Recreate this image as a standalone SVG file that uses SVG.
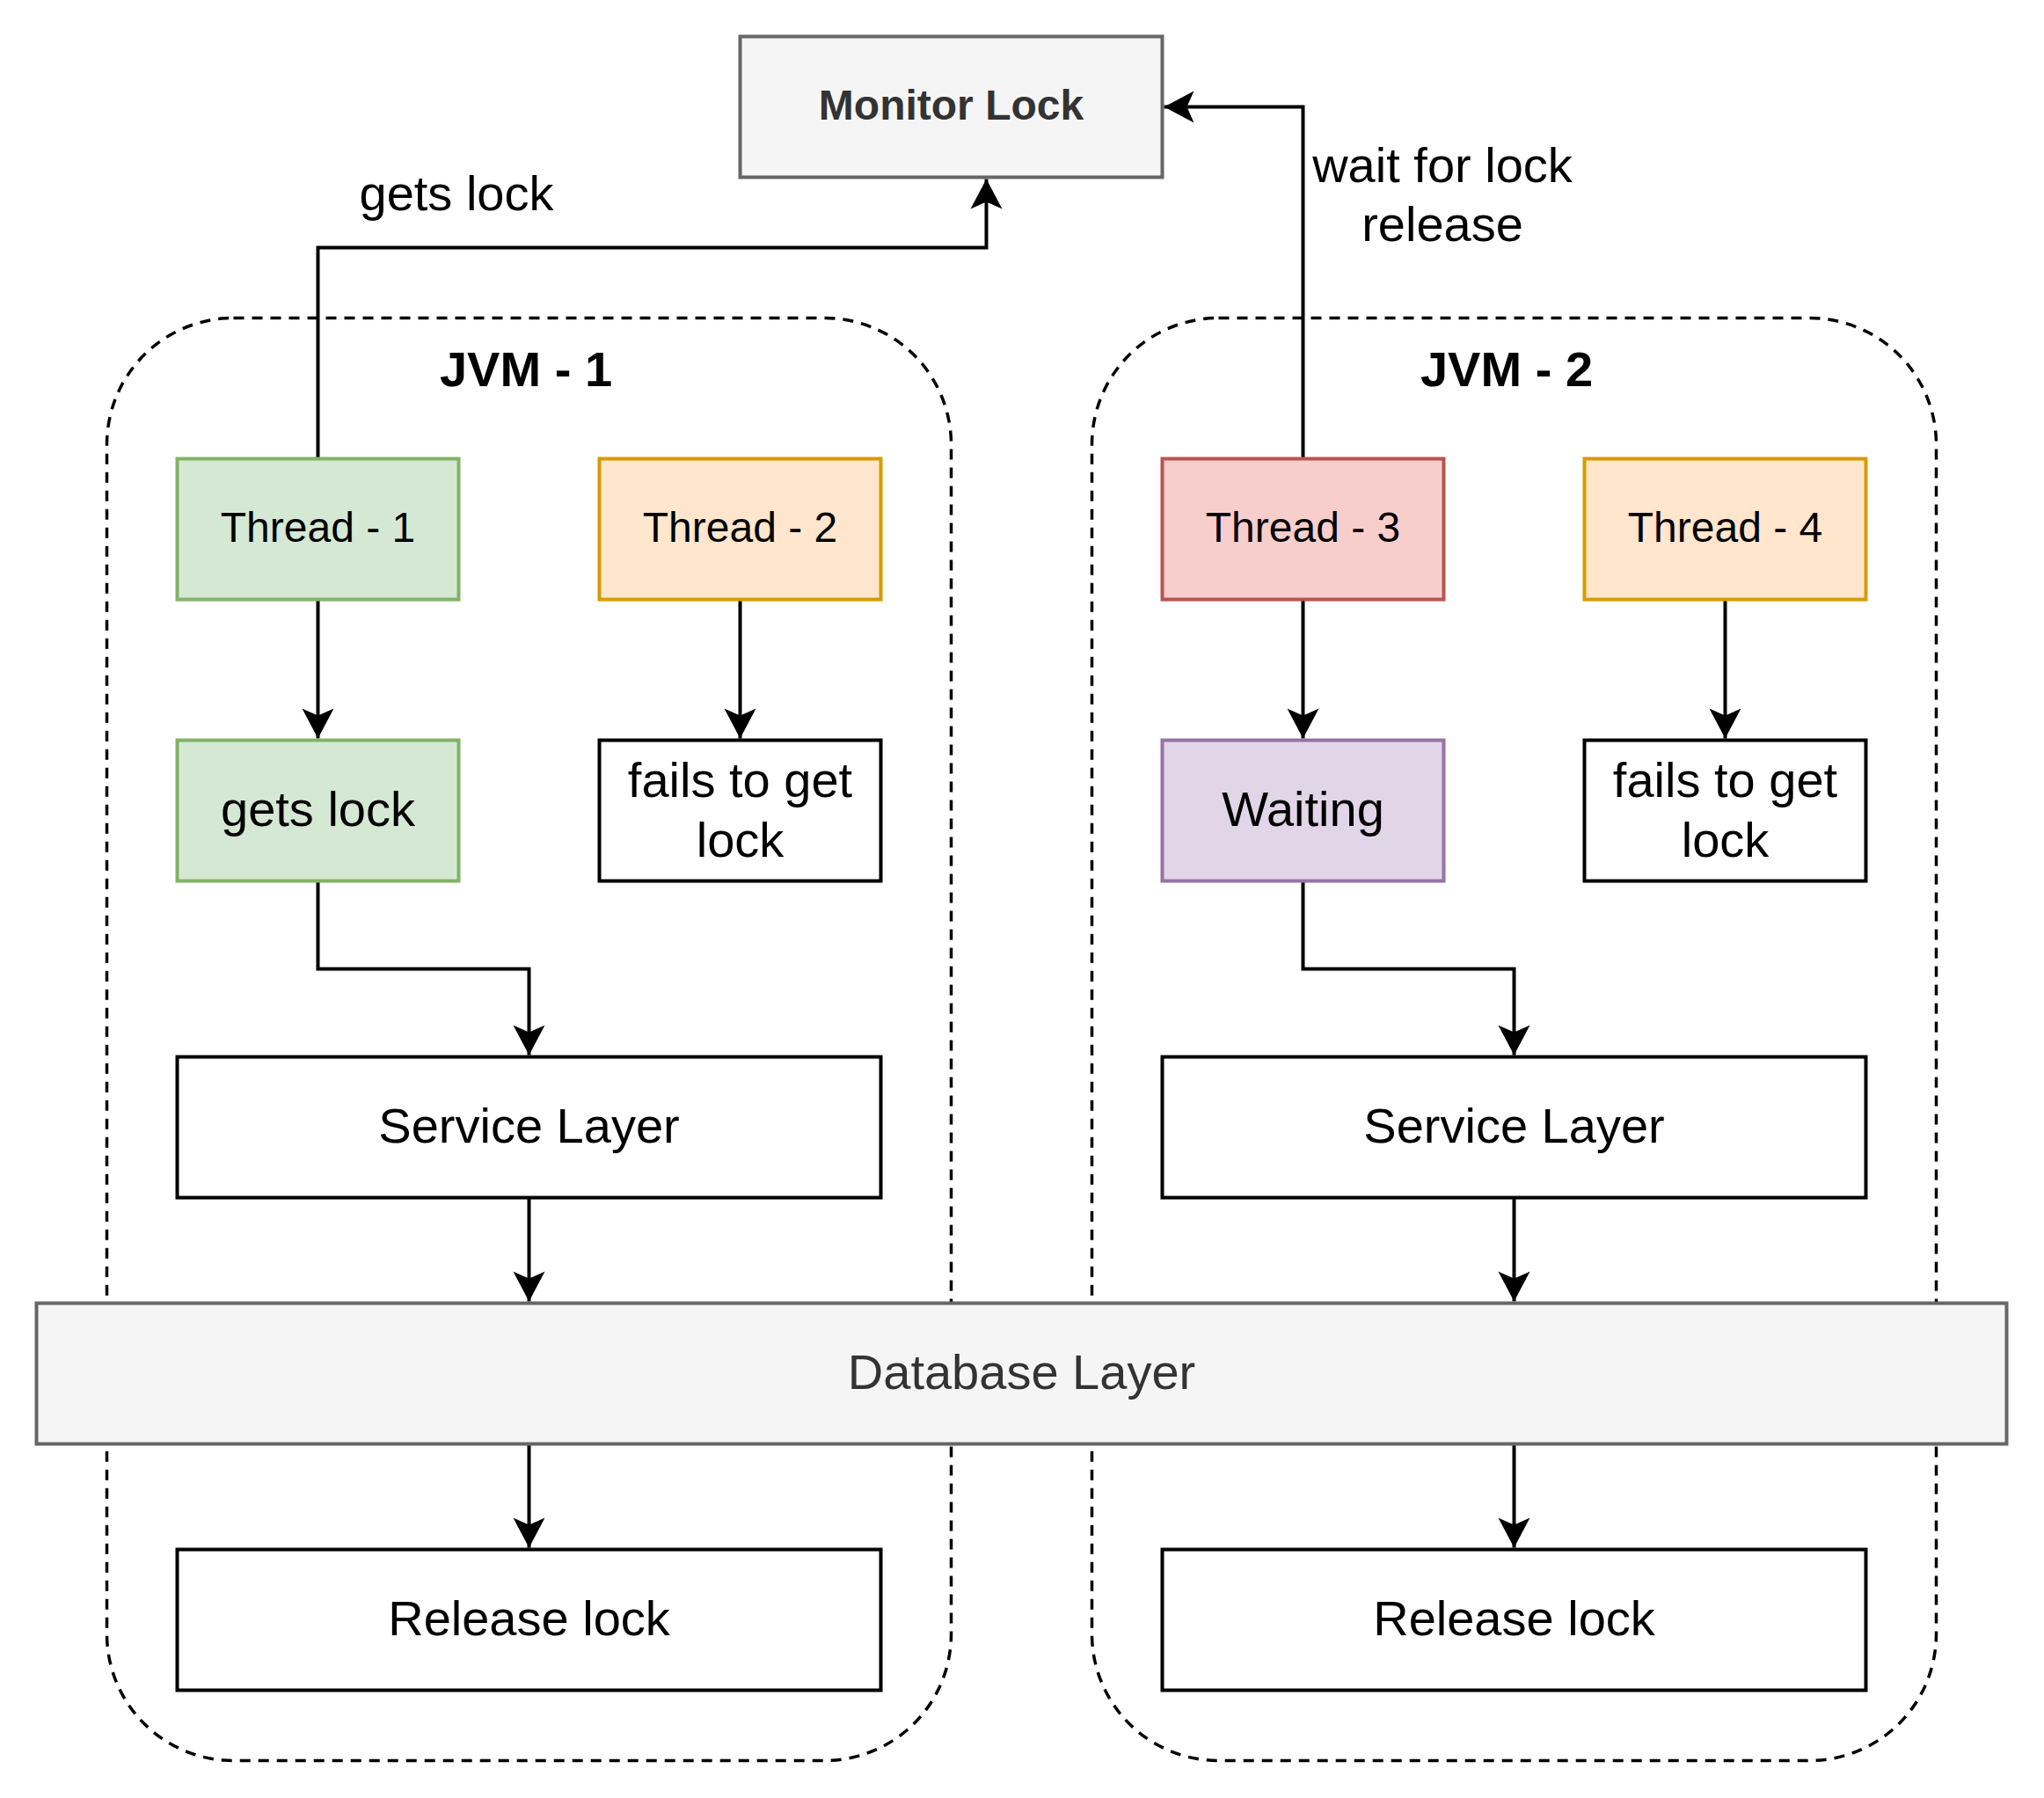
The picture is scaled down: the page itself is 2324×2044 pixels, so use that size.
<svg xmlns="http://www.w3.org/2000/svg" width="2324" height="2044" viewBox="0 0 2324 2044">
<style>
text{font-family:"Liberation Sans",Arial,Helvetica,sans-serif;text-anchor:middle;fill:#000}
.box{stroke-width:4}
.plain{fill:#fff;stroke:#000}
.grey{fill:#f5f5f5;stroke:#666666}
.green{fill:#d5e8d4;stroke:#82b366}
.orange{fill:#ffe6cc;stroke:#d79b00}
.red{fill:#f8cecc;stroke:#b85450}
.purple{fill:#e1d5e7;stroke:#9673a6}
.cont{fill:none;stroke:#000;stroke-width:3.5;stroke-dasharray:12 9}
.t48{font-size:48px}
.t56{font-size:56px}
.bold{font-weight:bold}
.dark{fill:#333333}
.conn path{fill:none;stroke:#000;stroke-width:4;marker-end:url(#arr)}
</style>
<defs>
<marker id="arr" markerUnits="userSpaceOnUse" viewBox="-35 -19 36 38" markerWidth="36" markerHeight="38" refX="0" refY="0" orient="auto">
<path d="M0,0 L-34,-18 L-26,0 L-34,18 Z" fill="#000"/>
</marker>
</defs>
<rect width="2324" height="2044" fill="#fff"/>
<g id="jvm1">
<rect class="cont" x="121.5" y="361.5" width="960" height="1640" rx="144" ry="144"/>
<text class="t56 bold" x="598" y="439">JVM - 1</text>
</g>
<g id="jvm2">
<rect class="cont" x="1241.5" y="361.5" width="960" height="1640" rx="144" ry="144"/>
<text class="t56 bold" x="1713" y="439">JVM - 2</text>
</g>
<g id="connectors" class="conn">
<path d="M361.5,521.5 V281.5 H1121.5 V203.5"/>
<path d="M1481.5,521.5 V121.5 H1323.5"/>
<path d="M361.5,681.5 V839.5"/>
<path d="M841.5,681.5 V839.5"/>
<path d="M1481.5,681.5 V839.5"/>
<path d="M1961.5,681.5 V839.5"/>
<path d="M361.5,1001.5 V1101.5 H601.5 V1199.5"/>
<path d="M1481.5,1001.5 V1101.5 H1721.5 V1199.5"/>
<path d="M601.5,1361.5 V1479.5"/>
<path d="M1721.5,1361.5 V1479.5"/>
<path d="M601.5,1641.5 V1759.5"/>
<path d="M1721.5,1641.5 V1759.5"/>
</g>
<g id="label-gets-lock"><text class="t56" x="519" y="239">gets lock</text></g>
<g id="label-wait"><text class="t56" x="1640" y="207">wait for lock</text><text class="t56" x="1640" y="274">release</text></g>
<g id="monitor-lock">
<rect class="box grey" x="841.5" y="41.5" width="480" height="160"/>
<text class="t48 bold dark" x="1081.5" y="135.5">Monitor Lock</text>
</g>
<g id="thread1">
<rect class="box green" x="201.5" y="521.5" width="320" height="160"/>
<text class="t48" x="361.5" y="616">Thread - 1</text>
</g>
<g id="thread2">
<rect class="box orange" x="681.5" y="521.5" width="320" height="160"/>
<text class="t48" x="841.5" y="616">Thread - 2</text>
</g>
<g id="thread3">
<rect class="box red" x="1321.5" y="521.5" width="320" height="160"/>
<text class="t48" x="1481.5" y="616">Thread - 3</text>
</g>
<g id="thread4">
<rect class="box orange" x="1801.5" y="521.5" width="320" height="160"/>
<text class="t48" x="1961.5" y="616">Thread - 4</text>
</g>
<g id="gets-lock">
<rect class="box green" x="201.5" y="841.5" width="320" height="160"/>
<text class="t56" x="361.5" y="939">gets lock</text>
</g>
<g id="fails1">
<rect class="box plain" x="681.5" y="841.5" width="320" height="160"/>
<text class="t56" x="841.5" y="905.5">fails to get</text>
<text class="t56" x="841.5" y="973.5">lock</text>
</g>
<g id="waiting">
<rect class="box purple" x="1321.5" y="841.5" width="320" height="160"/>
<text class="t56" x="1481.5" y="939">Waiting</text>
</g>
<g id="fails2">
<rect class="box plain" x="1801.5" y="841.5" width="320" height="160"/>
<text class="t56" x="1961.5" y="905.5">fails to get</text>
<text class="t56" x="1961.5" y="973.5">lock</text>
</g>
<g id="service1">
<rect class="box plain" x="201.5" y="1201.5" width="800" height="160"/>
<text class="t56" x="601.5" y="1299">Service Layer</text>
</g>
<g id="service2">
<rect class="box plain" x="1321.5" y="1201.5" width="800" height="160"/>
<text class="t56" x="1721.5" y="1299">Service Layer</text>
</g>
<g id="database">
<rect class="box grey" x="41.5" y="1481.5" width="2240" height="160"/>
<text class="t56 dark" x="1161.5" y="1579">Database Layer</text>
</g>
<g id="release1">
<rect class="box plain" x="201.5" y="1761.5" width="800" height="160"/>
<text class="t56" x="601.5" y="1859">Release lock</text>
</g>
<g id="release2">
<rect class="box plain" x="1321.5" y="1761.5" width="800" height="160"/>
<text class="t56" x="1721.5" y="1859">Release lock</text>
</g>
</svg>
